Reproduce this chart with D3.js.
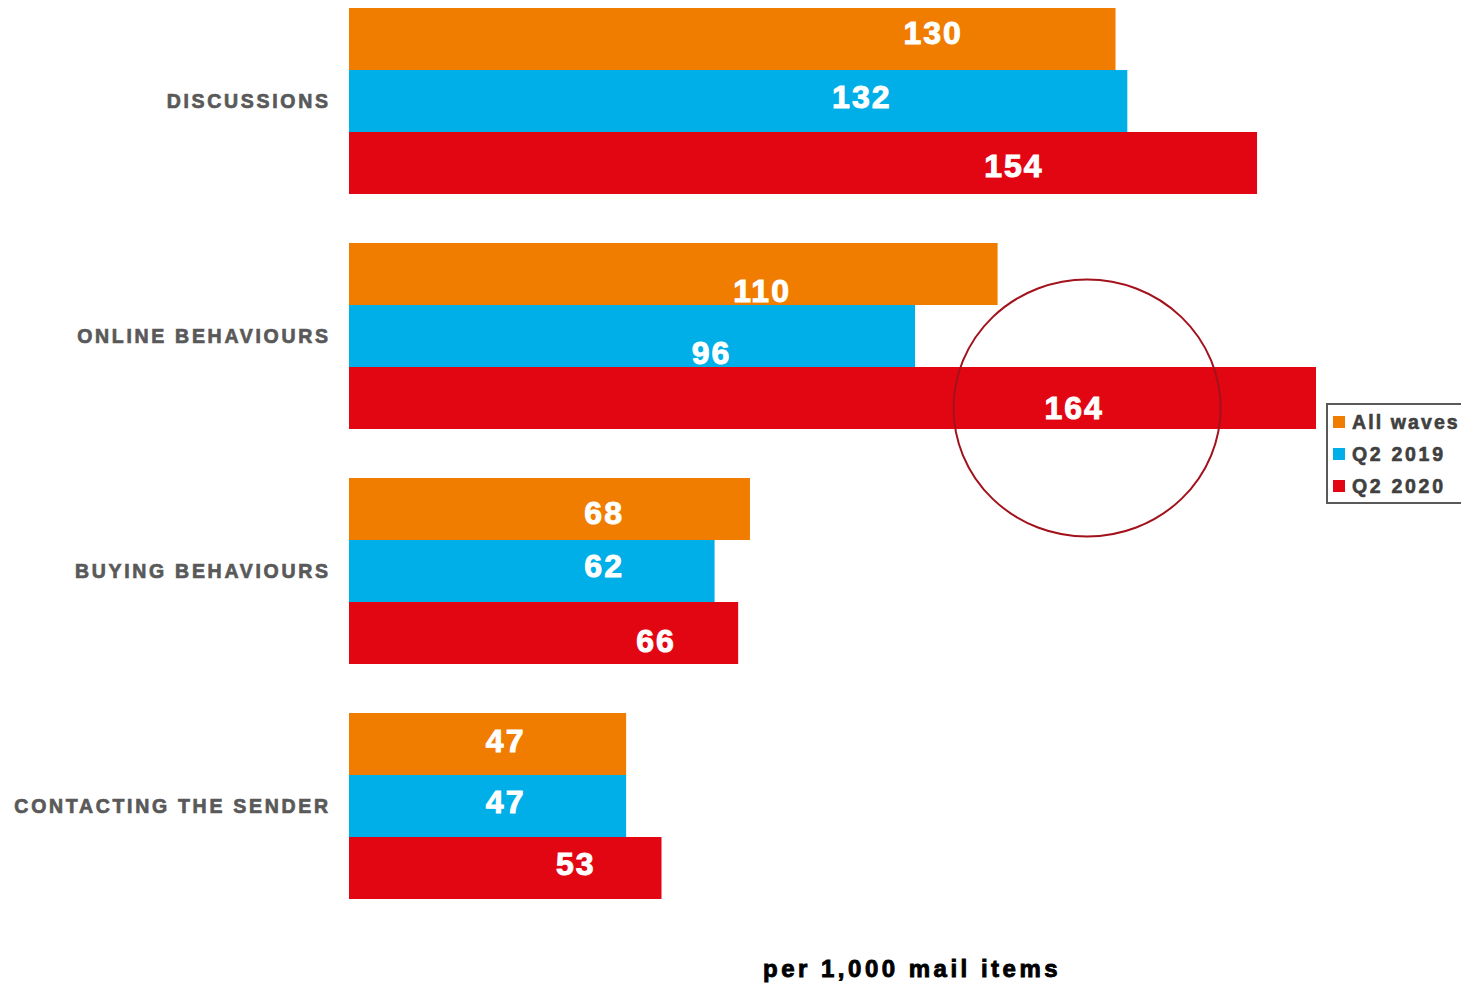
<!DOCTYPE html>
<html>
<head>
<meta charset="utf-8">
<script src="https://cdn.jsdelivr.net/npm/d3@7"></script>
<style>
  html, body { margin: 0; padding: 0; background: #fff; overflow: hidden; }
  svg { display: block; }
  text { font-family: "Liberation Sans", Arial, sans-serif; font-weight: bold; }
</style>
</head>
<body>
<svg id="chart" width="1461" height="983"></svg>
<script>
// ---- data ----
const categories = ["DISCUSSIONS", "ONLINE BEHAVIOURS", "BUYING BEHAVIOURS", "CONTACTING THE SENDER"];
const seriesNames = ["All waves", "Q2 2019", "Q2 2020"];
const allWaves = [130, 110, 68, 47];
const q2019 = [132, 96, 62, 47];
const q2020 = [154, 164, 66, 53];
const axisTitle = "per 1,000 mail items";

// label anchors (in value units) and vertical offsets
const labelAt = [
  [98.9, 86.8, 112.6],
  [69.9, 61.3, 122.8],
  [43.1, 43.1, 51.9],
  [26.4, 26.4, 38.3]
];
const labelDy = [
  [-7, -4.5, 2.5],
  [16, 16.5, 9.5],
  [3, -5.5, 7.5],
  [-3.5, -4.5, -5]
];

const colors = ["#F07D00", "#00AEE8", "#E20613"];
const seriesValues = [allWaves, q2019, q2020];

const svg = d3.select("#chart");

const x = d3.scaleLinear().domain([0, 164]).range([349, 1316]);
const y0 = d3.scaleBand().domain(categories).range([8, 899]).paddingInner(49 / 235).paddingOuter(0);
const y1 = d3.scaleBand().domain(seriesNames).range([0, y0.bandwidth()]).padding(0);

const rows = categories.map((c, i) => ({
  cat: c, i,
  bars: seriesNames.map((s, j) => ({ s, j, v: seriesValues[j][i] }))
}));

const g = svg.append("g");

const grp = g.selectAll("g.grp").data(rows).join("g")
  .attr("class", "grp")
  .attr("transform", d => `translate(0,${y0(d.cat)})`);

grp.selectAll("rect").data(d => d.bars).join("rect")
  .attr("x", x(0))
  .attr("y", d => y1(d.s))
  .attr("width", d => x(d.v) - x(0))
  .attr("height", y1.bandwidth())
  .attr("fill", d => colors[d.j]);

grp.each(function(row) {
  d3.select(this).selectAll("text.val").data(row.bars).join("text")
    .attr("class", "val")
    .attr("x", d => x(labelAt[row.i][d.j]) + 1)
    .attr("y", d => y1(d.s) + y1.bandwidth() / 2 + labelDy[row.i][d.j] + 11.5)
    .attr("text-anchor", "middle")
    .attr("fill", "#fff")
    .attr("stroke", "#fff")
    .attr("stroke-width", 1)
    .style("font-size", "32px")
    .style("letter-spacing", "2px")
    .text(d => d.v);
});

// category labels
g.selectAll("text.cat").data(categories).join("text")
  .attr("class", "cat")
  .attr("x", 328 + 2.7)
  .attr("y", d => y0(d) + y0.bandwidth() / 2 + 7)
  .attr("text-anchor", "end")
  .attr("fill", "#595959")
  .attr("stroke", "#595959")
  .attr("stroke-width", 0.7)
  .style("font-size", "19.5px")
  .style("letter-spacing", "2.7px")
  .text(d => d);

// highlight ellipse around the Q2 2020 online bar
const hiRow = 1, hiSeries = "Q2 2020";
svg.append("ellipse")
  .attr("cx", x(labelAt[hiRow][2]) + 14)
  .attr("cy", y0(categories[hiRow]) + y1(hiSeries) + y1.bandwidth() / 2 + 10)
  .attr("rx", 133.5)
  .attr("ry", 128.5)
  .attr("fill", "none")
  .attr("stroke", "#A3121C")
  .attr("stroke-width", 2);

// legend
const lg = svg.append("g").attr("transform", "translate(1327,404)");
lg.append("rect")
  .attr("x", 0).attr("y", 0)
  .attr("width", 160).attr("height", 99)
  .attr("fill", "#fff")
  .attr("stroke", "#595959")
  .attr("stroke-width", 2);
const li = lg.selectAll("g.li").data(seriesNames).join("g")
  .attr("class", "li")
  .attr("transform", (d, i) => `translate(0,${i * 32})`);
li.append("rect")
  .attr("x", 6).attr("y", 12)
  .attr("width", 12).attr("height", 12)
  .attr("fill", (d, i) => colors[i]);
li.append("text")
  .attr("x", 25).attr("y", 24.5)
  .attr("fill", "#404040")
  .attr("stroke", "#404040")
  .attr("stroke-width", 0.6)
  .style("font-size", "19.5px")
  .style("letter-spacing", (d, i) => i === 0 ? "2.1px" : "2.7px")
  .text(d => d);

// axis title
svg.append("text")
  .attr("x", 763)
  .attr("y", 977)
  .attr("fill", "#000")
  .attr("stroke", "#000")
  .attr("stroke-width", 0.9)
  .style("font-size", "24px")
  .style("letter-spacing", "3.5px")
  .text(axisTitle);
</script>
</body>
</html>
